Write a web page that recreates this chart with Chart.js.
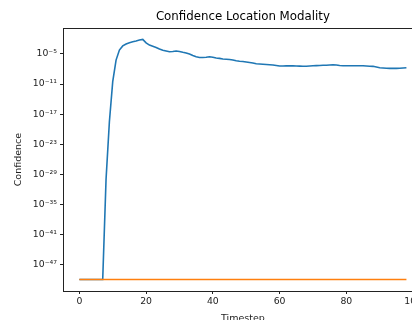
<!DOCTYPE html>
<html>
<head>
<meta charset="utf-8">
<script src="https://cdn.jsdelivr.net/npm/chart.js@4.4.0/dist/chart.umd.min.js"></script>
<style>
  html, body { margin: 0; padding: 0; background: #fff; overflow: hidden; }
  #wrap { width: 424px; height: 330px; }
</style>
</head>
<body>
<div id="wrap"><canvas id="confidenceChart" width="424" height="330"></canvas></div>
<script>
// Confidence per timestep
const timesteps = [
  0, 1, 2, 3, 4, 5, 6, 7, 8, 9, 10, 11, 12, 13, 14, 15, 16, 17, 18, 19,
  20, 21, 22, 23, 24, 25, 26, 27, 28, 29, 30, 31, 32, 33, 34, 35, 36, 37, 38, 39,
  40, 41, 42, 43, 44, 45, 46, 47, 48, 49, 50, 51, 52, 53, 54, 55, 56, 57, 58, 59,
  60, 61, 62, 63, 64, 65, 66, 67, 68, 69, 70, 71, 72, 73, 74, 75, 76, 77, 78, 79,
  80, 81, 82, 83, 84, 85, 86, 87, 88, 89, 90, 91, 92, 93, 94, 95, 96, 97, 98
];

const blueConfidence = [
  1e-50, 1e-50, 1e-50, 1e-50, 1e-50, 1e-50, 1e-50, 1e-50,
  1e-30, 3e-19, 3e-11, 6e-7, 6e-5, 4e-4, 1e-3, 1.8e-3, 2.8e-3, 4e-3, 6e-3, 8e-3,
  1.6e-3, 6e-4, 3.5e-4, 2e-4, 1e-4, 5.6e-5, 4e-5, 2.8e-5, 3.2e-5, 4e-5,
  3.2e-5, 2.2e-5, 1.6e-5, 1e-5, 5e-6, 2.8e-6, 2e-6, 2e-6, 2.2e-6, 2.8e-6,
  2.2e-6, 1.6e-6, 1.3e-6, 1e-6, 9e-7, 8e-7, 6.3e-7, 4.5e-7, 3.5e-7, 3.2e-7,
  2.5e-7, 2e-7, 1.6e-7, 1.1e-7, 1e-7, 9e-8, 8e-8, 7e-8, 6.3e-8, 5e-8,
  4e-8, 4e-8, 4.2e-8, 4.5e-8, 4.2e-8, 4e-8, 3.8e-8, 3.5e-8, 3.5e-8, 4e-8,
  4.5e-8, 4.8e-8, 5e-8, 5.4e-8, 5.6e-8, 6.3e-8, 7e-8, 6.3e-8, 5e-8, 4.5e-8,
  4.5e-8, 4.5e-8, 4.5e-8, 4.5e-8, 4.5e-8, 4.5e-8, 4e-8, 3.5e-8, 3.4e-8, 2.5e-8,
  1.8e-8, 1.6e-8, 1.4e-8, 1.35e-8, 1.35e-8, 1.35e-8, 1.4e-8, 1.6e-8, 1.8e-8
];

const orangeConfidence = [
  1e-50, 1e-50, 1e-50, 1e-50, 1e-50, 1e-50, 1e-50, 1e-50, 1e-50, 1e-50,
  1e-50, 1e-50, 1e-50, 1e-50, 1e-50, 1e-50, 1e-50, 1e-50, 1e-50, 1e-50,
  1e-50, 1e-50, 1e-50, 1e-50, 1e-50, 1e-50, 1e-50, 1e-50, 1e-50, 1e-50,
  1e-50, 1e-50, 1e-50, 1e-50, 1e-50, 1e-50, 1e-50, 1e-50, 1e-50, 1e-50,
  1e-50, 1e-50, 1e-50, 1e-50, 1e-50, 1e-50, 1e-50, 1e-50, 1e-50, 1e-50,
  1e-50, 1e-50, 1e-50, 1e-50, 1e-50, 1e-50, 1e-50, 1e-50, 1e-50, 1e-50,
  1e-50, 1e-50, 1e-50, 1e-50, 1e-50, 1e-50, 1e-50, 1e-50, 1e-50, 1e-50,
  1e-50, 1e-50, 1e-50, 1e-50, 1e-50, 1e-50, 1e-50, 1e-50, 1e-50, 1e-50,
  1e-50, 1e-50, 1e-50, 1e-50, 1e-50, 1e-50, 1e-50, 1e-50, 1e-50, 1e-50,
  1e-50, 1e-50, 1e-50, 1e-50, 1e-50, 1e-50, 1e-50, 1e-50, 1e-50
];

// Axis ticks
const xTicks = [0, 20, 40, 60, 80, 100];
const yTickValues = [1e-5, 1e-11, 1e-17, 1e-23, 1e-29, 1e-35, 1e-41, 1e-47];
const yTickLabels = ['10⁻⁵', '10⁻¹¹', '10⁻¹⁷', '10⁻²³', '10⁻²⁹', '10⁻³⁵', '10⁻⁴¹', '10⁻⁴⁷'];

const toPoints = (ys) => ys.map((y, i) => ({ x: timesteps[i], y: y }));

// matplotlib-style box around the plot area
const frame = {
    id: 'frame',
    afterDatasetsDraw(chart) {
        const { ctx, chartArea: a } = chart;
        ctx.save();
        ctx.strokeStyle = '#222';
        ctx.lineWidth = 1;
        ctx.strokeRect(Math.round(a.left) + 0.5, Math.round(a.top) + 0.5,
            Math.round(a.right - a.left), Math.round(a.bottom - a.top));
        ctx.restore();
    }
};

Chart.defaults.font.family = '"DejaVu Sans", sans-serif';
Chart.defaults.color = '#222';

const ctx = document.getElementById('confidenceChart').getContext('2d');
const confidenceChart = new Chart(ctx, {
    type: 'line',
    data: {
        datasets: [
            {
                data: toPoints(blueConfidence),
                borderColor: '#1f77b4',
                borderWidth: 1.6,
                pointRadius: 0,
                tension: 0,
                order: 1
            },
            {
                data: toPoints(orangeConfidence),
                borderColor: '#ff7f0e',
                borderWidth: 1.6,
                pointRadius: 0,
                tension: 0,
                order: 0
            }
        ]
    },
    options: {
        responsive: false,
        animation: false,
        layout: { padding: { left: 0, right: 0, top: 0, bottom: 0 } },
        plugins: {
            legend: { display: false },
            tooltip: { enabled: false },
            title: {
                display: true,
                text: 'Confidence Location Modality',
                fullSize: false,
                color: '#000',
                font: { size: 11.8, weight: 'normal' },
                padding: { top: 10, bottom: 4 }
            }
        },
        scales: {
            x: {
                type: 'linear',
                min: -4.9,
                max: 102.9,
                afterBuildTicks: (scale) => { scale.ticks = xTicks.map(v => ({ value: v })); },
                afterFit: (scale) => { scale.height = 39; },
                ticks: { font: { size: 9.3 }, padding: 2, maxRotation: 0 },
                grid: { drawOnChartArea: false, drawTicks: true, tickLength: 3, color: '#222' },
                border: { display: false },
                title: { display: true, text: 'Timestep', font: { size: 9.5 }, padding: { top: 0, bottom: 6 } }
            },
            y: {
                type: 'logarithmic',
                min: Math.pow(10, -52.31),
                max: Math.pow(10, 0.15),
                afterBuildTicks: (scale) => { scale.ticks = yTickValues.map(v => ({ value: v })); },
                afterFit: (scale) => { scale.width = 63; },
                ticks: {
                    font: { size: 9.3 },
                    padding: 3,
                    callback: (value, index) => yTickLabels[index]
                },
                grid: { drawOnChartArea: false, drawTicks: true, tickLength: 3, color: '#222' },
                border: { display: false },
                title: { display: true, text: 'Confidence', font: { size: 9.5 }, padding: { top: 13, bottom: 0 } }
            }
        }
    },
    plugins: [frame]
});
</script>
</body>
</html>
